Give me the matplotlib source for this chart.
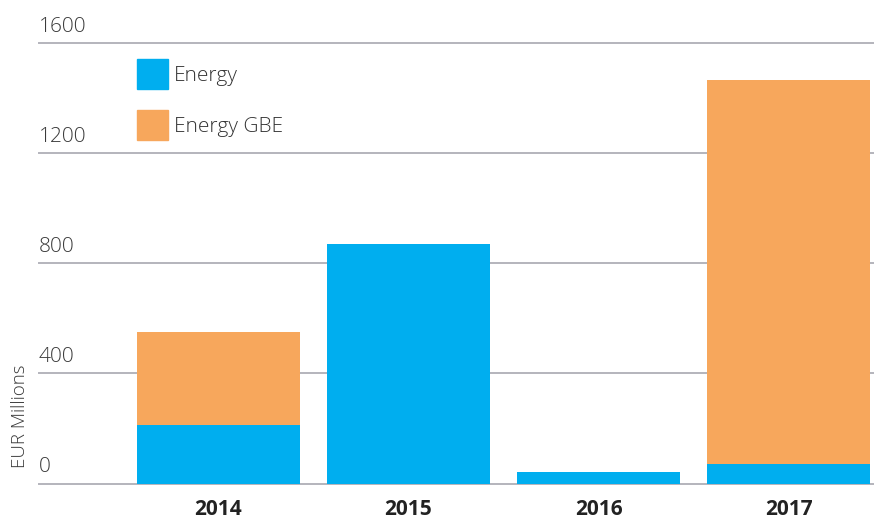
import numpy as np
import matplotlib
matplotlib.use("Agg")
from matplotlib import pyplot as plt
from matplotlib.patches import Patch

plt.rcParams["font.family"] = ["Open Sans", "DejaVu Sans"]

# data (EUR millions)
years = ["2014", "2015", "2016", "2017"]
energy = [213, 871, 42, 72]
energy_gbe = [338, 0, 0, 1395]
y_ticks = [0, 400, 800, 1200, 1600]

blue = "#00AEEF"
orange = "#F7A75C"
grid_col = "#B4B4BC"

fig = plt.figure(figsize=(8.74, 5.23), dpi=100)
ax = fig.add_axes([39 / 874, 1 - 483.5 / 523, 1 - 39 / 874, 440.2 / 523])

x = np.arange(len(years))
ax.bar(x, energy, width=0.858, color=blue, zorder=3)
ax.bar(x, energy_gbe, width=0.858, bottom=energy, color=orange, zorder=3)

ax.set_xlim(-0.945, 3.45)
ax.set_ylim(0, 1600)

# horizontal grid lines with labels sitting on top of them
for t in y_ticks:
    ax.axhline(t, color=grid_col, lw=1.4, zorder=1, clip_on=False)
    ax.annotate(str(t), xy=(0, t), xycoords=("axes fraction", "data"),
                xytext=(0, 6), textcoords="offset pixels",
                ha="left", va="bottom", fontsize=15, fontweight="light",
                color="#3a3a3a")

ax.set_yticks([])
ax.set_xticks(x)
ax.set_xticklabels(years, fontsize=15, fontweight="bold", color="#222222")
ax.tick_params(axis="x", length=0, pad=11)
for s in ax.spines.values():
    s.set_visible(False)

fig.text(20 / 874, 1 - 416 / 523, "EUR Millions", rotation=90,
         ha="center", va="center", fontsize=13.5, fontweight="light",
         color="#3a3a3a")

handles = [Patch(color=blue, label="Energy"),
           Patch(color=orange, label="Energy GBE")]
fig.legend(handles=handles, loc="upper left",
           bbox_to_anchor=(137 / 874, 1 - 59 / 523),
           frameon=False, borderpad=0, borderaxespad=0,
           handlelength=1.49, handleheight=1.85, labelspacing=1.0,
           handletextpad=0.3,
           prop={"size": 15, "weight": "light"}, labelcolor="#333333")

fig.savefig("out.png", dpi=100)
